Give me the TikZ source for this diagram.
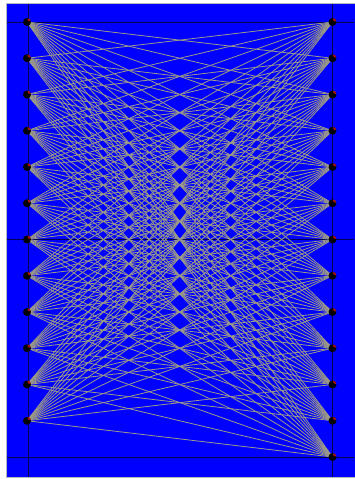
\documentclass[tikz,border=0pt]{standalone}
\usepackage{tikz}
\usetikzlibrary{backgrounds}
\definecolor{plotblue}{HTML}{0000FF}
\definecolor{wiregray}{HTML}{9C9A86}
\definecolor{axisline}{HTML}{000050}
\definecolor{framegray}{HTML}{B8B8B8}
\definecolor{pinred}{HTML}{B01010}
\tikzset{
  pin/.style={circle, fill=black, inner sep=0pt, minimum size=8pt,
              path picture={\fill[pinred] ([xshift=-1.2pt,yshift=-1.2pt]path picture bounding box.north east) circle (2.2pt);}},
  wire/.style={draw=wiregray, line width=0.8pt},
  axis/.style={draw=axisline, line width=0.7pt},
}

\begin{document}
\begin{tikzpicture}[x=1pt, y=-1pt]
  \useasboundingbox (0,0) rectangle (354,479);
  \def\gy{36.25}
  % terminals
  \foreach \i in {1,...,12}{\node[pin] (L\i) at (27,22+\gy*\i-\gy) {};}
  \foreach \j in {1,...,13}{\node[pin] (R\j) at (332.5,22+\gy*\j-\gy) {};}
  \begin{scope}[on background layer]
    \fill[white] (0,0) rectangle (354,479);
    \draw[draw=framegray, fill=plotblue, line width=1pt] (6,3) rectangle (358,477);
    % grid
    \foreach \y in {22,239.5,457}{\draw[axis] (6.5,\y) -- (354,\y);}
    \foreach \x in {28,332}{\draw[axis] (\x,3.5) -- (\x,476.5);}
    % wires, no straight row links
    \foreach \i in {1,...,12}{
      \foreach \j in {1,...,13}{\ifnum\i=\j\else\draw[wire] (L\i.center) -- (R\j.center);\fi}}
  \end{scope}
\end{tikzpicture}
\end{document}
